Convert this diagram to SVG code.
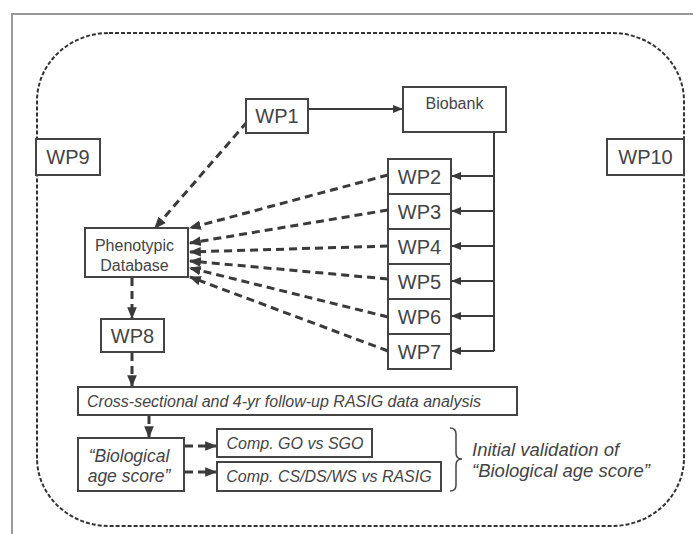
<svg xmlns="http://www.w3.org/2000/svg" width="694" height="534" viewBox="0 0 694 534">
<defs>
<marker id="ah" viewBox="0 0 10 10" refX="9" refY="5" markerWidth="4" markerHeight="4" orient="auto" markerUnits="strokeWidth">
<path d="M0,1 L10,5 L0,9 z" fill="#3a3a3a"/>
</marker>
<marker id="ahs" viewBox="0 0 10 10" refX="9" refY="5" markerWidth="5" markerHeight="5" orient="auto" markerUnits="strokeWidth">
<path d="M0,1 L10,5 L0,9 z" fill="#3a3a3a"/>
</marker>
<style>
.box{fill:#fff;stroke:#444;stroke-width:2}
.t{font-family:"Liberation Sans",Arial,sans-serif;fill:#444;text-anchor:middle;dominant-baseline:central}
.wp{font-size:20px}
.sm{font-size:16px}
.it{font-style:italic}
.dash{fill:none;stroke:#3a3a3a;stroke-width:3;stroke-dasharray:8 5;marker-end:url(#ah)}
.solid{fill:none;stroke:#3a3a3a;stroke-width:2;marker-end:url(#ahs)}
</style>
</defs>
<rect width="694" height="534" fill="#fff"/>
<path d="M12,534 V14 H693" fill="none" stroke="#999" stroke-width="2"/>
<rect x="37" y="33" width="647" height="493" rx="72" ry="68" fill="none" stroke="#333" stroke-width="2" stroke-dasharray="4 2"/>

<g id="connectors">
<path class="solid" d="M308,109 H402"/>
<path d="M494,132 V351" fill="none" stroke="#3a3a3a" stroke-width="2"/>
<path class="solid" d="M494,176 H452"/>
<path class="solid" d="M494,211 H452"/>
<path class="solid" d="M494,246 H452"/>
<path class="solid" d="M494,281 H452"/>
<path class="solid" d="M494,316 H452"/>
<path class="solid" d="M494,351 H452"/>
<path class="dash" d="M247,122 L155,228"/>
<path class="dash" d="M388,175 L190,228"/>
<path class="dash" d="M388,210 L190,243"/>
<path class="dash" d="M388,246 L190,252"/>
<path class="dash" d="M388,279 L190,261"/>
<path class="dash" d="M388,317 L190,268"/>
<path class="dash" d="M388,351 L190,277"/>
<path class="dash" d="M132,278 V318"/>
<path class="dash" d="M132,353 V386"/>
<path class="dash" d="M149,416 V437"/>
<path class="dash" d="M185,446 H216"/>
<path class="dash" d="M185,472 H216"/>
</g>

<g id="WP1"><rect class="box" x="246" y="99" width="62" height="34"/><text class="t wp" x="277" y="116">WP1</text></g>
<g id="Biobank"><rect class="box" x="403" y="87" width="103" height="45"/><text class="t sm" x="454.5" y="103">Biobank</text></g>
<g id="WP9"><rect class="box" x="36" y="139" width="64" height="36"/><text class="t wp" x="68" y="157">WP9</text></g>
<g id="WP10"><rect class="box" x="607" y="139" width="77" height="36"/><text class="t wp" x="645.5" y="157">WP10</text></g>
<g id="WP2"><rect class="box" x="388" y="159" width="63" height="35"/><text class="t wp" x="419.5" y="176.5">WP2</text></g>
<g id="WP3"><rect class="box" x="388" y="194" width="63" height="35"/><text class="t wp" x="419.5" y="211.5">WP3</text></g>
<g id="WP4"><rect class="box" x="388" y="229" width="63" height="35"/><text class="t wp" x="419.5" y="246.5">WP4</text></g>
<g id="WP5"><rect class="box" x="388" y="264" width="63" height="35"/><text class="t wp" x="419.5" y="281.5">WP5</text></g>
<g id="WP6"><rect class="box" x="388" y="299" width="63" height="35"/><text class="t wp" x="419.5" y="316.5">WP6</text></g>
<g id="WP7"><rect class="box" x="388" y="334" width="63" height="35"/><text class="t wp" x="419.5" y="351.5">WP7</text></g>
<g id="PhenotypicDatabase"><rect class="box" x="85" y="228" width="103" height="49"/><text class="t sm" x="134.5" y="245">Phenotypic</text><text class="t sm" x="134.5" y="265">Database</text></g>
<g id="WP8"><rect class="box" x="101" y="319" width="63" height="33"/><text class="t wp" x="132.5" y="335.5">WP8</text></g>
<g id="Analysis"><rect class="box" x="78" y="387" width="439" height="28"/><text class="t sm it" x="284" y="401">Cross-sectional and 4-yr follow-up RASIG data analysis</text></g>
<g id="BiologicalAgeScore"><rect class="box" x="78" y="438" width="106" height="53"/><text class="t it" font-size="17.5" x="129" y="456">“Biological</text><text class="t it" font-size="17.5" x="129" y="476">age score”</text></g>
<g id="CompGO"><rect class="box" x="217" y="429" width="155" height="28"/><text class="t sm it" x="295" y="443">Comp. GO vs SGO</text></g>
<g id="CompCS"><rect class="box" x="217" y="462" width="224" height="29"/><text class="t sm it" x="329" y="476.5">Comp. CS/DS/WS vs RASIG</text></g>
<g id="Validation">
<path d="M450,428 Q456,428 456,434 V453 Q456,459 462,459 Q456,459 456,465 V485 Q456,491 450,491" fill="none" stroke="#444" stroke-width="1.5"/>
<text class="t it" font-size="18.5" x="472" y="449" style="text-anchor:start">Initial validation of</text>
<text class="t it" font-size="18.5" x="472" y="470" style="text-anchor:start">“Biological age score”</text>
</g>
</svg>
